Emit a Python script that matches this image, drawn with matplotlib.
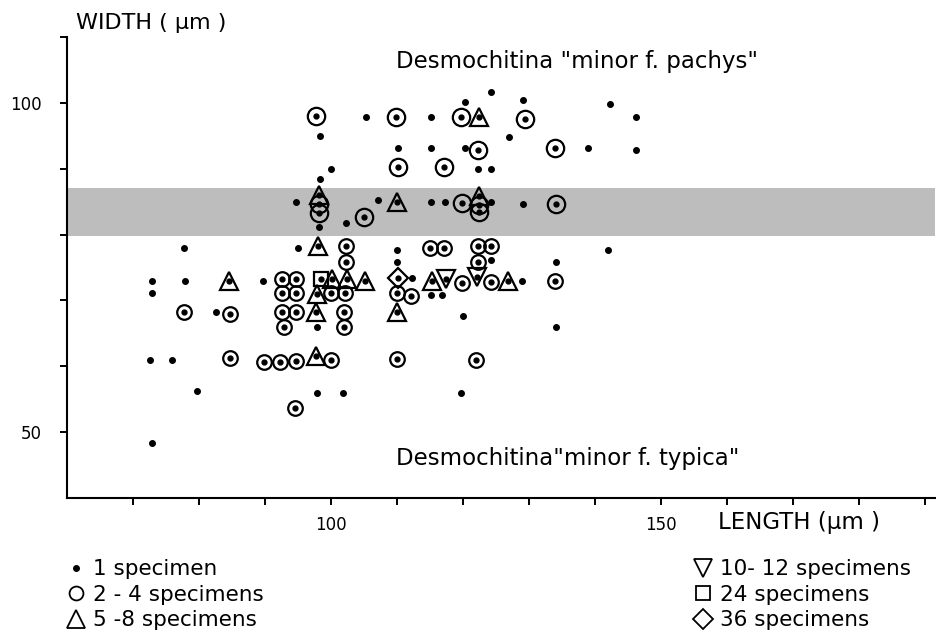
import numpy as np
import matplotlib.pyplot as plt
from matplotlib.lines import Line2D

# single specimens (length, width in micrometres)
dot_len = [98.3, 100.0, 98.3, 105.3, 115.2, 120.3, 124.2, 129.1, 110.2, 115.2, 120.3, 127.0, 139.0, 122.3, 124.2, 142.3, 146.2, 146.2,
           94.7, 98.2, 102.3, 107.1, 115.2, 117.3, 124.3, 129.1,
           77.7, 95.0, 110.0, 110.0, 124.2, 134.1, 142.0, 72.9, 77.9, 89.7, 112.3, 128.9, 72.9, 115.2, 116.8, 82.6, 97.9, 120.0, 134.1,
           72.6, 75.9, 79.7, 97.9, 101.8, 119.7, 72.9]
dot_wid = [94.9, 90.0, 88.4, 97.9, 97.8, 100.1, 101.7, 100.4, 93.1, 93.1, 93.1, 94.8, 93.1, 90.0, 89.9, 99.8, 97.9, 92.8,
           84.9, 81.2, 81.8, 85.2, 84.9, 84.9, 85.0, 84.7,
           78.0, 78.0, 77.7, 75.9, 76.1, 75.9, 77.7, 72.9, 72.9, 72.9, 73.4, 72.9, 71.2, 70.9, 70.9, 68.2, 65.9, 67.6, 65.9,
           60.9, 60.9, 56.3, 55.9, 55.9, 56.0, 48.4]

# 2 - 4 specimens
circ_len = [97.7, 109.8, 119.7, 129.4, 122.3, 133.9, 110.2, 117.1,
            98.2, 98.2, 105.0, 119.8, 122.4, 122.4, 134.1,
            102.3, 102.3, 115.0, 117.1, 122.3, 124.2, 122.3,
            92.6, 94.7, 119.8, 124.2, 133.9,
            92.6, 94.7, 100.0, 102.1, 110.0, 112.1,
            77.7, 84.7, 92.6, 94.7, 102.0,
            92.9, 102.0,
            84.7, 89.8, 92.3, 94.7, 100.0, 110.0, 122.0, 94.5]
circ_wid = [98.0, 97.9, 97.8, 97.6, 92.8, 93.1, 90.2, 90.2,
            84.6, 83.3, 82.6, 84.8, 84.5, 83.4, 84.6,
            78.2, 75.9, 78.0, 78.0, 78.3, 78.2, 75.9,
            73.2, 73.2, 72.7, 72.8, 73.0,
            71.2, 71.2, 71.2, 71.2, 71.2, 70.7,
            68.2, 68.0, 68.3, 68.3, 68.3,
            65.9, 66.0,
            61.3, 60.7, 60.7, 60.8, 61.0, 61.1, 60.9, 53.7]

# 5 - 8 specimens
tri_len = [122.4, 98.2, 110.0, 122.4, 98.0, 84.5, 100.2, 102.4, 105.2, 115.3, 126.8, 97.9, 97.7, 110.0, 97.7]
tri_wid = [97.9, 86.0, 85.0, 85.8, 78.2, 72.9, 73.3, 73.3, 73.0, 72.9, 73.0, 71.0, 68.3, 68.3, 61.5]

# 10 - 12 specimens
inv_len = [117.4, 122.1]
inv_wid = [73.2, 73.5]

# 24 specimens
sq_len = [98.5]
sq_wid = [73.3]

# 36 specimens
dia_len = [110.2]
dia_wid = [73.4]

band_lo, band_hi = 79.8, 87.1

fig = plt.figure(figsize=(9.37, 6.38), dpi=100)
ax = fig.add_axes([0.0715, 0.2194, 0.9264, 0.7226])

ax.axhspan(band_lo, band_hi, color='#bdbdbd', lw=0, zorder=0)

ax.plot(dot_len, dot_wid, 'o', ms=4, color='k', ls='none')

circ_len = np.array(circ_len)
circ_wid = np.array(circ_wid)
big = circ_wid > band_lo
open_style = dict(ls='none', mfc='none', mec='k', mew=1.6)
ax.plot(circ_len[big], circ_wid[big], 'o', ms=12.5, **open_style)
ax.plot(circ_len[~big], circ_wid[~big], 'o', ms=10.5, **open_style)
ax.plot(tri_len, tri_wid, '^', ms=13, **open_style)
ax.plot(inv_len, inv_wid, 'v', ms=13, **open_style)
ax.plot(sq_len, sq_wid, 's', ms=10, **open_style)
ax.plot(dia_len, dia_wid, 'D', ms=10, **open_style)

# dot in the centre of every grouped marker
centre_len = np.concatenate([circ_len, tri_len, inv_len, sq_len, dia_len])
centre_wid = np.concatenate([circ_wid, tri_wid, inv_wid, sq_wid, dia_wid])
ax.plot(centre_len, centre_wid, 'o', ms=3.5, color='k', ls='none')

ax.set_xlim(60, 191.5)
ax.set_ylim(40, 110)
xt = list(range(70, 191, 10))
ax.set_xticks(xt)
ax.set_xticklabels(['100' if v == 100 else '150' if v == 150 else '' for v in xt])
yt = list(range(50, 111, 10))
ax.set_yticks(yt)
ax.set_yticklabels(['50' if v == 50 else '100' if v == 100 else '' for v in yt])
ax.tick_params(axis='both', length=5, width=1.4, labelsize=12)
ax.tick_params(axis='y', pad=13)
ax.tick_params(axis='x', pad=8)
for s in ['top', 'right']:
    ax.spines[s].set_visible(False)
for s in ['left', 'bottom']:
    ax.spines[s].set_linewidth(1.5)

ax.text(0.01, 1.03, 'WIDTH ( µm )', transform=ax.transAxes, fontsize=16, va='center', ha='left')
ax.text(0.75, -0.054, 'LENGTH (µm )', transform=ax.transAxes, fontsize=16.5, va='center', ha='left')

ax.text(109.8, 106.3, 'Desmochitina "minor f. pachys"', fontsize=16.5, va='center', ha='left')
ax.text(109.8, 46.0, 'Desmochitina"minor f. typica"', fontsize=16.5, va='center', ha='left')

hs = dict(ls='none', color='k', mfc='none', mew=1.3)
left_handles = [Line2D([], [], marker='o', ls='none', color='k', ms=4),
                Line2D([], [], marker='o', ms=10, **hs),
                Line2D([], [], marker='^', ms=13, **hs)]
left_labels = ['1 specimen', '2 - 4 specimens', '5 -8 specimens']
right_handles = [Line2D([], [], marker='v', ms=13, **hs),
                 Line2D([], [], marker='s', ms=10, **hs),
                 Line2D([], [], marker='D', ms=10, **hs)]
right_labels = ['10- 12 specimens', '24 specimens', '36 specimens']

legend_style = dict(loc='upper left', frameon=False, fontsize=15.5, handlelength=1.0,
                    handletextpad=0.3, labelspacing=0.25, borderpad=0)
fig.legend(left_handles, left_labels, bbox_to_anchor=(0.058, 0.14), **legend_style)
fig.legend(right_handles, right_labels, bbox_to_anchor=(0.727, 0.14), **legend_style)

fig.savefig('out.png', dpi=100)
